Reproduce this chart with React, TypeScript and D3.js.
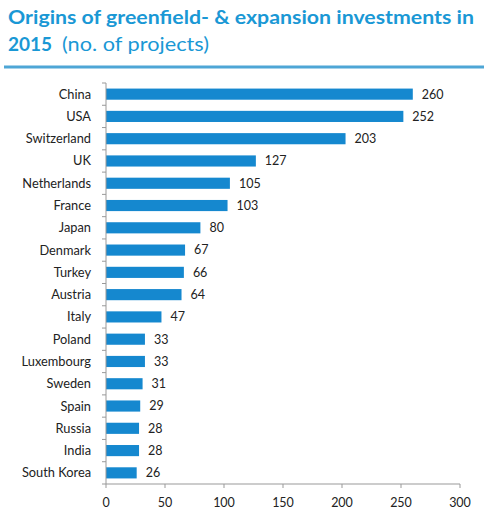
import React from "react";
import * as d3 from "d3";

const countries = ["China","USA","Switzerland","UK","Netherlands","France","Japan","Denmark","Turkey","Austria","Italy","Poland","Luxembourg","Sweden","Spain","Russia","India","South Korea"];
const projects = [260,252,203,127,105,103,80,67,66,64,47,33,33,31,29,28,28,26];
const xTicks = [0,50,100,150,200,250,300];

export default function App() {
  const W = 491, H = 515;
  const left = 106, right = 460, top = 83, bottom = 484;
  const x = d3.scaleLinear().domain([0, 300]).range([left, right]);
  const y = d3.scaleBand<string>().domain(countries).range([top, bottom]).paddingInner(0.5).paddingOuter(0.25);
  const step = (bottom - top) / countries.length;
  const font = "Lato, 'Open Sans', sans-serif";
  const blue = "#1a98d5";
  return (
    <svg width={W} height={H} style={{ position: "absolute", left: 0, top: 0 }} fontFamily={font}>
      <rect width={W} height={H} fill="#fff" />
      <text x={8} y={24} fill={blue} fontSize={18.5} fontWeight="bold" textLength={466} lengthAdjust="spacingAndGlyphs">Origins of greenfield- &amp; expansion investments in</text>
      <text x={8} y={51} fill={blue} fontSize={19}>
        <tspan fontWeight="bold">2015</tspan>
      </text>
      <text x={62} y={51} fill={blue} fontSize={19.5} textLength={147} lengthAdjust="spacingAndGlyphs">(no. of projects)</text>
      <line x1={4} x2={484} y1={67} y2={67} stroke="#4ea6d6" strokeWidth={3} />
      {countries.map((c, i) => (
        <g key={c}>
          <rect x={x(0)} y={y(c)!} width={x(projects[i]) - x(0)} height={y.bandwidth()} fill="#1588cf" />
          <text x={x(projects[i]) + 9} y={y(c)! + y.bandwidth() / 2} dy="0.35em" fontSize={12.5} fill="#222">{projects[i]}</text>
          <text x={left - 15} y={y(c)! + y.bandwidth() / 2} dy="0.35em" fontSize={12.8} fill="#222" textAnchor="end">{c}</text>
        </g>
      ))}
      <line x1={left} x2={left} y1={top} y2={bottom} stroke="#999" />
      {d3.range(countries.length + 1).map(i => (
        <line key={i} x1={left - 4} x2={left} y1={top + i * step} y2={top + i * step} stroke="#999" />
      ))}
      <line x1={left} x2={right} y1={bottom} y2={bottom} stroke="#999" />
      {xTicks.map(t => (
        <g key={t}>
          <line x1={x(t)} x2={x(t)} y1={bottom} y2={bottom + 4} stroke="#999" />
          <text x={x(t)} y={bottom + 19} dy="0.35em" fontSize={12.5} fill="#222" textAnchor="middle">{t}</text>
        </g>
      ))}
    </svg>
  );
}
